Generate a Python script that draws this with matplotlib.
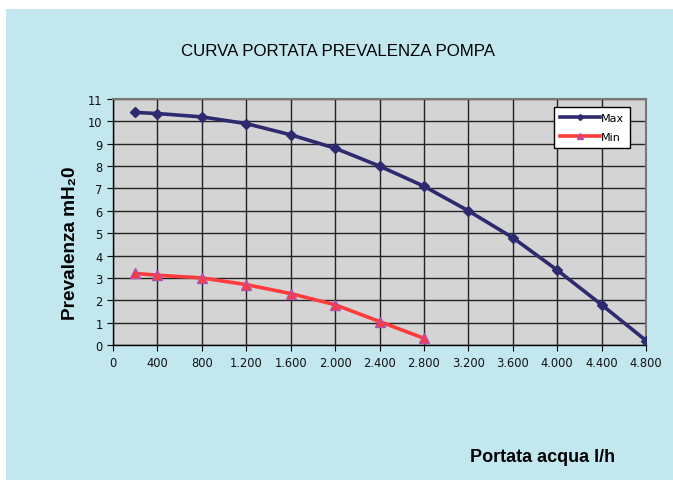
import matplotlib
matplotlib.use('Agg')
import matplotlib.pyplot as plt
from matplotlib.patches import Rectangle
from matplotlib.ticker import FuncFormatter, MultipleLocator

# pump curve: flow (l/h) vs head (m H2O)
flow_max = [200, 400, 800, 1200, 1600, 2000, 2400, 2800, 3200, 3600, 4000, 4400, 4800]
head_max = [10.4, 10.35, 10.2, 9.9, 9.4, 8.8, 8.0, 7.1, 6.0, 4.8, 3.35, 1.8, 0.2]
flow_min = [200, 400, 800, 1200, 1600, 2000, 2400, 2800]
head_min = [3.2, 3.12, 3.0, 2.7, 2.3, 1.8, 1.05, 0.3]

BG = '#C3E7EF'
W, H = 673, 481

fig = plt.figure(figsize=(W / 100, H / 100), dpi=100)
fig.patches.append(Rectangle((6 / W, 0), 1 - 6 / W, 1 - 10 / H,
                             transform=fig.transFigure, facecolor=BG,
                             edgecolor='none', zorder=-1))

ax = fig.add_axes([113 / W, 1 - 346 / H, (646 - 113) / W, (346 - 100) / H])
ax.set_zorder(2)
ax.set_facecolor('#D4D4D4')

ax.plot(flow_max, head_max, color='#2E2A70', lw=2.6, marker='D', ms=5,
        mfc='#2E2A70', mec='#2E2A70', label='Max', zorder=3)
ax.plot(flow_min, head_min, color='#FF3B3B', lw=2.6, marker='^', ms=7,
        mfc='#FF3B3B', mec='#B050B0', mew=1, label='Min', zorder=3)

ax.set_xlim(0, 4800)
ax.set_ylim(0, 11)
ax.xaxis.set_major_locator(MultipleLocator(400))
ax.yaxis.set_major_locator(MultipleLocator(1))
ax.xaxis.set_major_formatter(FuncFormatter(lambda v, p: f"{int(v):,}".replace(',', '.')))
ax.grid(True, color='#222222', lw=1)
ax.set_axisbelow(True)

for side in ('top', 'right'):
    ax.spines[side].set_color('#777777')
    ax.spines[side].set_linewidth(1.5)
for side in ('left', 'bottom'):
    ax.spines[side].set_color('black')
    ax.spines[side].set_linewidth(1)

ax.tick_params(axis='both', labelsize=8.3, direction='out', length=4,
               color='black', labelcolor='#111111')
ax.tick_params(axis='x', pad=4)

leg = ax.legend(loc='upper right', bbox_to_anchor=(0.97, 0.967), borderaxespad=0,
                fontsize=8, frameon=True, fancybox=False, handlelength=3.6,
                borderpad=0.55, labelspacing=0.8, handletextpad=0.1,
                markerscale=0.6)
leg.get_frame().set_edgecolor('black')
leg.get_frame().set_linewidth(1)
leg.get_frame().set_facecolor('white')
leg.get_frame().set_alpha(1)

fig.text(338 / W, 1 - 52 / H, 'CURVA PORTATA PREVALENZA POMPA',
         ha='center', va='center', fontsize=12.2,
         family=['Liberation Sans', 'DejaVu Sans'])
fig.text(70 / W, 1 - 243 / H, 'Prevalenza mH\u20820', rotation=90,
         ha='center', va='center', fontsize=13.7, fontweight='bold',
         family=['Liberation Sans', 'DejaVu Sans'])
fig.text(543 / W, 1 - 458 / H, 'Portata acqua l/h', ha='center', va='center',
         fontsize=13, fontweight='bold', family=['Liberation Sans', 'DejaVu Sans'])

fig.savefig('out.png', dpi=100)
